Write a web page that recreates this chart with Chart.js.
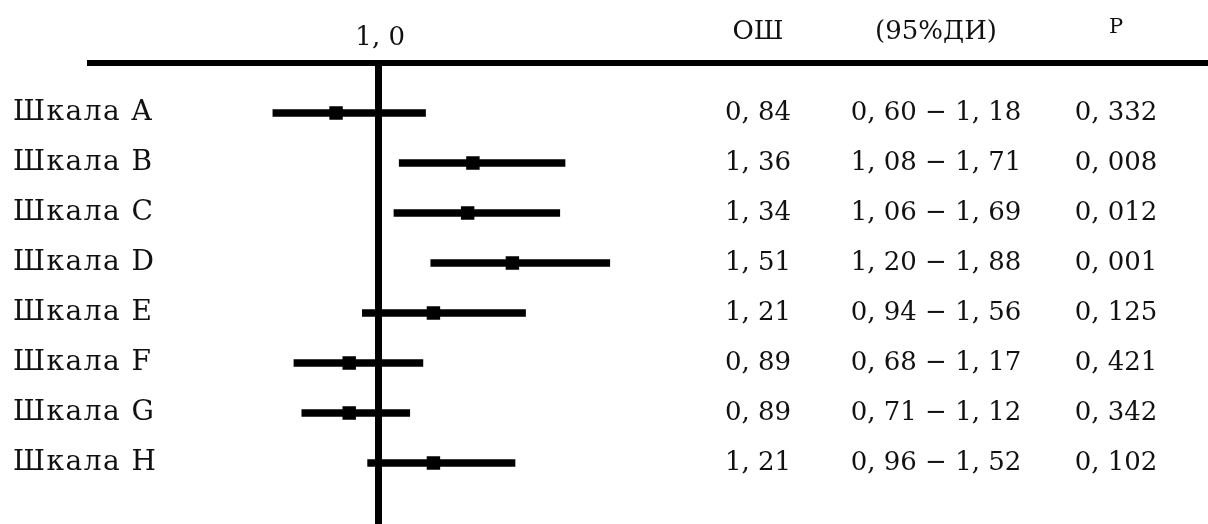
<!DOCTYPE html>
<html>
<head>
<meta charset="utf-8">
<script src="https://cdn.jsdelivr.net/npm/chart.js@4/dist/chart.umd.min.js"></script>
<style>
  html, body { margin: 0; padding: 0; background: #fff; }
  #wrap { width: 1208px; height: 524px; }
</style>
</head>
<body>
<div id="wrap"><canvas id="forest" width="1208" height="524"></canvas></div>
<script>
// data
const categories = ['Шкала A', 'Шкала B', 'Шкала C', 'Шкала D', 'Шкала E', 'Шкала F', 'Шкала G', 'Шкала H'];
const orValues = [0.84, 1.36, 1.34, 1.51, 1.21, 0.89, 0.89, 1.21];
const ciLow = [0.60, 1.08, 1.06, 1.20, 0.94, 0.68, 0.71, 0.96];
const ciHigh = [1.18, 1.71, 1.69, 1.88, 1.56, 1.17, 1.12, 1.52];
const pValues = [0.332, 0.008, 0.012, 0.001, 0.125, 0.421, 0.342, 0.102];
const headers = ['ОШ', '(95%ДИ)', 'P'];
const refValue = 1.0;

const serif = '"DejaVu Serif", "Liberation Serif", serif';

// 0.84 -> "0, 84"
function fmt(v, d) {
    return v.toFixed(d).replace('.', ', ');
}

const tablePlugin = {
    id: 'forestTable',
    beforeDraw(chart) {
        // the row labels are set a bit wider, like the original typesetting
        chart.ctx.letterSpacing = '1.5px';
    },
    beforeDatasetsDraw(chart) {
        const ctx = chart.ctx;
        ctx.letterSpacing = '0px';
        const xs = chart.scales.x;
        const x1 = xs.getPixelForValue(refValue);
        ctx.save();
        ctx.fillStyle = '#000';
        // header rule
        ctx.fillRect(87, 60, chart.width - 87, 6);
        // reference line at 1,0
        ctx.fillRect(Math.round(x1) - 3, 60, 7, chart.height - 60);
        ctx.restore();
    },
    afterDraw(chart) {
        const ctx = chart.ctx;
        const xs = chart.scales.x;
        const ys = chart.scales.y;
        const x1 = xs.getPixelForValue(refValue);
        const cols = [758, 936, 1116];

        ctx.save();
        ctx.fillStyle = '#111';
        ctx.textAlign = 'center';
        ctx.textBaseline = 'alphabetic';
        ctx.font = '26px ' + serif;
        ctx.fillText(fmt(refValue, 1), x1 + 2, 45);
        ctx.fillText(headers[0], cols[0], 39);
        ctx.fillText(headers[1], cols[1], 39);
        ctx.font = '21px ' + serif;
        ctx.fillText(headers[2], cols[2], 33);

        ctx.font = '26px ' + serif;
        categories.forEach((c, i) => {
            const y = ys.getPixelForValue(i) + 7;
            ctx.fillText(fmt(orValues[i], 2), cols[0], y);
            ctx.fillText(fmt(ciLow[i], 2) + ' \u2212 ' + fmt(ciHigh[i], 2), cols[1], y);
            ctx.fillText(fmt(pValues[i], 3), cols[2], y);
        });
        ctx.restore();
    }
};

new Chart(document.getElementById('forest'), {
    type: 'bar',
    data: {
        labels: categories,
        datasets: [
            {
                type: 'line',
                label: 'ОШ',
                data: orValues,
                showLine: false,
                pointStyle: 'rect',
                pointRadius: 9.5,
                pointHoverRadius: 9.5,
                pointBackgroundColor: '#000',
                pointBorderWidth: 0,
                order: 0
            },
            {
                label: '95%ДИ',
                data: ciLow.map((lo, i) => [lo, ciHigh[i]]),
                backgroundColor: '#000',
                borderWidth: 0,
                barThickness: 7,
                order: 1
            }
        ]
    },
    options: {
        indexAxis: 'y',
        responsive: false,
        animation: false,
        devicePixelRatio: 1,
        layout: {
            padding: { left: 13, right: 514, top: 88, bottom: 36 }
        },
        plugins: {
            legend: { display: false },
            tooltip: { enabled: false }
        },
        scales: {
            x: {
                type: 'linear',
                min: 0.2,
                max: 2.2,
                display: false
            },
            y: {
                type: 'category',
                offset: true,
                grid: { display: false },
                border: { display: false },
                afterFit(scale) {
                    scale.width = 154.6;
                },
                ticks: {
                    crossAlign: 'far',
                    color: '#111',
                    padding: 0,
                    font: { family: serif, size: 28 }
                }
            }
        }
    },
    plugins: [tablePlugin]
});
</script>
</body>
</html>
